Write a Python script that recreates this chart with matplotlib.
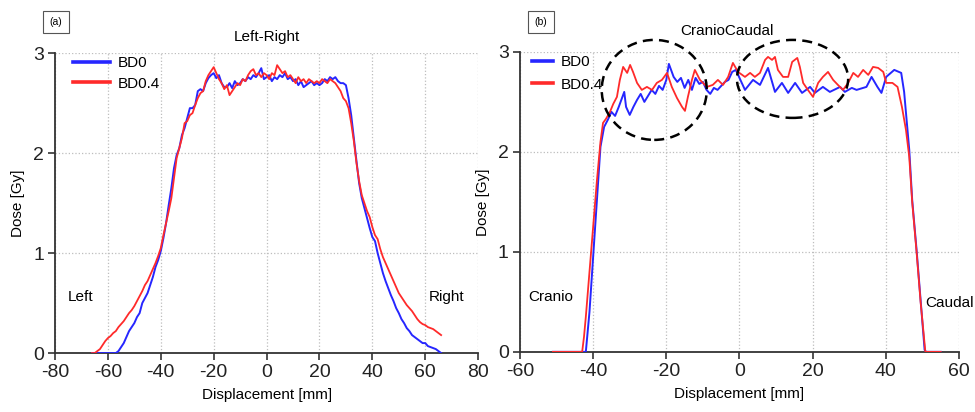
import numpy as np
import matplotlib
matplotlib.use("Agg")
import matplotlib.pyplot as plt
from matplotlib.lines import Line2D
from matplotlib.patches import Ellipse

plt.rcParams["font.family"] = ["Liberation Sans", "DejaVu Sans"]
plt.rcParams["axes.unicode_minus"] = False

BLUE = "#2626ff"
RED = "#ff2a2a"

# ---- panel (a): Left-Right profile, 1 mm steps from -66 to 66 ----
lr_x = np.arange(-66, 67)
lr_bd0 = [
    0, 0, 0, 0, 0, 0, 0, 0, 0, 0,
    0.02, 0.06, 0.10, 0.16, 0.22, 0.26, 0.30, 0.36, 0.40, 0.50,
    0.55, 0.60, 0.68, 0.76, 0.86, 0.93, 1.02, 1.15, 1.30, 1.48,
    1.65, 1.85, 1.98, 2.05, 2.18, 2.25, 2.35, 2.45, 2.45, 2.48,
    2.62, 2.64, 2.62, 2.70, 2.75, 2.78, 2.80, 2.75, 2.78, 2.70,
    2.66, 2.66, 2.70, 2.65, 2.72, 2.68, 2.70, 2.74, 2.72, 2.76,
    2.74, 2.78, 2.76, 2.80, 2.85, 2.74, 2.76, 2.78, 2.72, 2.76,
    2.74, 2.78, 2.76, 2.80, 2.74, 2.76, 2.72, 2.74, 2.68, 2.72,
    2.66, 2.68, 2.70, 2.72, 2.68, 2.70, 2.68, 2.70, 2.74, 2.72,
    2.76, 2.74, 2.76, 2.72, 2.70, 2.70, 2.68, 2.55, 2.38, 2.15,
    1.92, 1.70, 1.55, 1.45, 1.35, 1.25, 1.16, 1.12, 1.00, 0.90,
    0.80, 0.72, 0.65, 0.58, 0.52, 0.45, 0.40, 0.34, 0.30, 0.25,
    0.22, 0.18, 0.16, 0.14, 0.12, 0.10, 0.10, 0.07, 0.06, 0.05,
    0.04, 0.02, 0.00,
]
lr_bd04 = [
    0, 0.00, 0.02, 0.04, 0.08, 0.12, 0.15, 0.17, 0.20, 0.22,
    0.26, 0.29, 0.32, 0.36, 0.40, 0.43, 0.47, 0.52, 0.57, 0.62,
    0.68, 0.72, 0.78, 0.84, 0.90, 0.97, 1.05, 1.18, 1.30, 1.42,
    1.55, 1.75, 1.95, 2.05, 2.15, 2.30, 2.32, 2.38, 2.40, 2.48,
    2.55, 2.60, 2.62, 2.72, 2.78, 2.82, 2.86, 2.80, 2.74, 2.70,
    2.64, 2.68, 2.58, 2.62, 2.66, 2.70, 2.68, 2.74, 2.72, 2.78,
    2.82, 2.84, 2.78, 2.80, 2.76, 2.80, 2.78, 2.74, 2.80, 2.78,
    2.88, 2.84, 2.80, 2.82, 2.76, 2.78, 2.74, 2.70, 2.76, 2.72,
    2.74, 2.70, 2.74, 2.72, 2.70, 2.72, 2.70, 2.74, 2.72, 2.70,
    2.74, 2.72, 2.70, 2.66, 2.62, 2.55, 2.52, 2.45, 2.30, 2.12,
    1.90, 1.72, 1.58, 1.50, 1.42, 1.36, 1.26, 1.18, 1.14, 1.04,
    0.96, 0.90, 0.84, 0.78, 0.72, 0.66, 0.60, 0.56, 0.52, 0.48,
    0.45, 0.42, 0.38, 0.34, 0.31, 0.29, 0.28, 0.26, 0.25, 0.24,
    0.22, 0.20, 0.18,
]

# ---- panel (b): CranioCaudal profile ----
cc_x_bd0 = [
    -51, -42, -41, -40, -39, -38, -37, -36, -35, -34,
    -33, -32, -31.5, -31, -30, -29, -28, -27, -26, -25,
    -24, -23, -22, -21, -20, -19.3, -18, -17, -16, -15,
    -14, -13, -12, -11, -10, -9, -8, -7, -6, -5,
    -4, -3, -2, -1, 0, 1.5, 3.7, 5.6, 7.8, 9.7,
    11.6, 13.3, 15.2, 17.1, 19.3, 20.6, 22.8, 24.7, 27.5, 28.8,
    30.7, 32.0, 34.7, 36.1, 37.7, 38.8, 40.1, 42.3, 44.2, 45.0,
    46.4, 47.2, 48.4, 49.5, 50.6, 51, 55,
]
cc_bd0 = [
    0, 0, 0.40, 0.95, 1.50, 2.05, 2.25, 2.32, 2.40, 2.36,
    2.45, 2.55, 2.60, 2.45, 2.37, 2.45, 2.52, 2.58, 2.50, 2.56,
    2.62, 2.58, 2.66, 2.62, 2.72, 2.88, 2.75, 2.70, 2.74, 2.64,
    2.72, 2.62, 2.74, 2.68, 2.70, 2.62, 2.58, 2.64, 2.62, 2.66,
    2.70, 2.72, 2.80, 2.82, 2.74, 2.62, 2.72, 2.67, 2.84, 2.60,
    2.69, 2.59, 2.69, 2.59, 2.65, 2.59, 2.65, 2.60, 2.65, 2.60,
    2.64, 2.62, 2.65, 2.75, 2.65, 2.59, 2.75, 2.82, 2.79, 2.60,
    2.02, 1.52, 1.02, 0.52, 0.02, 0, 0,
]
cc_x_bd04 = [
    -51, -43, -42.5, -42, -41, -40, -39, -38, -37.3, -36.5,
    -35.4, -34.5, -33.5, -32.7, -31.8, -30.7, -29.9, -29.1, -28.0, -26.7,
    -25.3, -23.9, -22.6, -21.2, -19.8, -18.5, -17.1, -15.7, -14.9, -14.1,
    -13.0, -12.2, -10.8, -8.9, -7.3, -5.9, -4.5, -3.1, -1.8, -0.4,
    1.5, 2.9, 4.2, 5.6, 7.0, 7.8, 8.9, 9.7, 10.5, 11.9,
    13.3, 14.4, 15.8, 16.5, 17.4, 18.7, 20.1, 21.5, 22.8, 24.2,
    25.6, 26.9, 28.3, 29.7, 31.1, 32.4, 33.8, 35.2, 36.5, 37.9,
    39.3, 40.1, 41.8, 43.2, 44.4, 45.5, 46.4, 47.2, 48.4, 49.5,
    50.8, 55,
]
cc_bd04 = [
    0, 0, 0.15, 0.35, 0.80, 1.25, 1.70, 2.10, 2.29, 2.33,
    2.40, 2.48, 2.55, 2.72, 2.85, 2.79, 2.87, 2.80, 2.69, 2.62,
    2.65, 2.62, 2.69, 2.72, 2.79, 2.65, 2.54, 2.45, 2.41, 2.55,
    2.72, 2.82, 2.72, 2.65, 2.67, 2.72, 2.67, 2.75, 2.89, 2.80,
    2.75, 2.79, 2.75, 2.79, 2.92, 2.95, 2.92, 2.95, 2.82, 2.75,
    2.75, 2.90, 2.94, 2.85, 2.69, 2.62, 2.55, 2.69, 2.75, 2.80,
    2.72, 2.67, 2.62, 2.69, 2.79, 2.75, 2.82, 2.77, 2.85, 2.84,
    2.80, 2.69, 2.69, 2.65, 2.45, 2.22, 1.95, 1.50, 1.00, 0.50,
    0.0, 0.0,
]


def style_axes(ax, xticks):
    ax.set_xticks(xticks)
    ax.set_yticks([0, 1, 2, 3])
    ax.set_ylim(0, 3)
    ax.set_xlim(xticks[0], xticks[-1])
    for s in ("top", "right"):
        ax.spines[s].set_visible(False)
    for s in ("left", "bottom"):
        ax.spines[s].set_color("#333333")
        ax.spines[s].set_linewidth(1.3)
    ax.tick_params(direction="out", length=5, width=1.2, color="#333333",
                   labelsize=14, labelcolor="#222222", pad=3)
    ax.grid(True, linestyle=":", color="#bdbdbd", linewidth=0.9)
    ax.set_axisbelow(True)
    ax.set_xlabel("Displacement [mm]", fontsize=11, labelpad=5)
    ax.set_ylabel("Dose [Gy]", fontsize=11, labelpad=6)


fig = plt.figure(figsize=(9.75, 4.12), dpi=100)
ax1 = fig.add_axes([0.0564, 0.143, 0.434, 0.728])
ax2 = fig.add_axes([0.5333, 0.146, 0.4503, 0.728])

# panel (a)
ax1.plot(lr_x, lr_bd0, color=BLUE, lw=1.4, zorder=3)
ax1.plot(lr_x, lr_bd04, color=RED, lw=1.3, zorder=4)
style_axes(ax1, [-80, -60, -40, -20, 0, 20, 40, 60, 80])
ax1.text(0.5, 1.055, "Left-Right", transform=ax1.transAxes, ha="center",
         va="center", fontsize=11)
ax1.text(-75, 0.56, "Left", fontsize=11, va="center")
ax1.text(61.5, 0.56, "Right", fontsize=11, va="center")
handles = [Line2D([0], [0], color=BLUE, lw=2.6), Line2D([0], [0], color=RED, lw=2.6)]
ax1.legend(handles, ["BD0", "BD0.4"], loc="upper left", bbox_to_anchor=(0.01, 1.035),
           frameon=False, fontsize=11, handlelength=2.4, handletextpad=0.5,
           labelspacing=0.4)

# panel (b)
ax2.plot(cc_x_bd0, cc_bd0, color=BLUE, lw=1.4, zorder=3)
ax2.plot(cc_x_bd04, cc_bd04, color=RED, lw=1.3, zorder=4)
style_axes(ax2, [-60, -40, -20, 0, 20, 40, 60])
ax2.text(0.471, 1.07, "CranioCaudal", transform=ax2.transAxes, ha="center",
         va="center", fontsize=11)
ax2.text(-57.8, 0.55, "Cranio", fontsize=11, va="center")
ax2.text(50.7, 0.49, "Caudal", fontsize=11, va="center")
ax2.legend(handles, ["BD0", "BD0.4"], loc="upper left", bbox_to_anchor=(-0.005, 1.035),
           frameon=False, fontsize=11, handlelength=1.4, handletextpad=0.5,
           labelspacing=0.55)
for cx, cy, w, h in [(-23.3, 2.62, 28.7, 1.0), (14.5, 2.73, 30.4, 0.78)]:
    ax2.add_patch(Ellipse((cx, cy), w, h, fill=False, edgecolor="black",
                          lw=1.8, linestyle=(0, (4, 2.5)), clip_on=False, zorder=5))

# panel tags
for x, tag in [(56 / 975, "(a)"), (541 / 975, "(b)")]:
    fig.text(x, 1 - 22 / 412, tag, ha="center", va="center", fontsize=7.5,
             bbox=dict(boxstyle="square,pad=0.6", facecolor="white",
                       edgecolor="#555555", linewidth=0.8))

fig.savefig("out.png", dpi=100)
